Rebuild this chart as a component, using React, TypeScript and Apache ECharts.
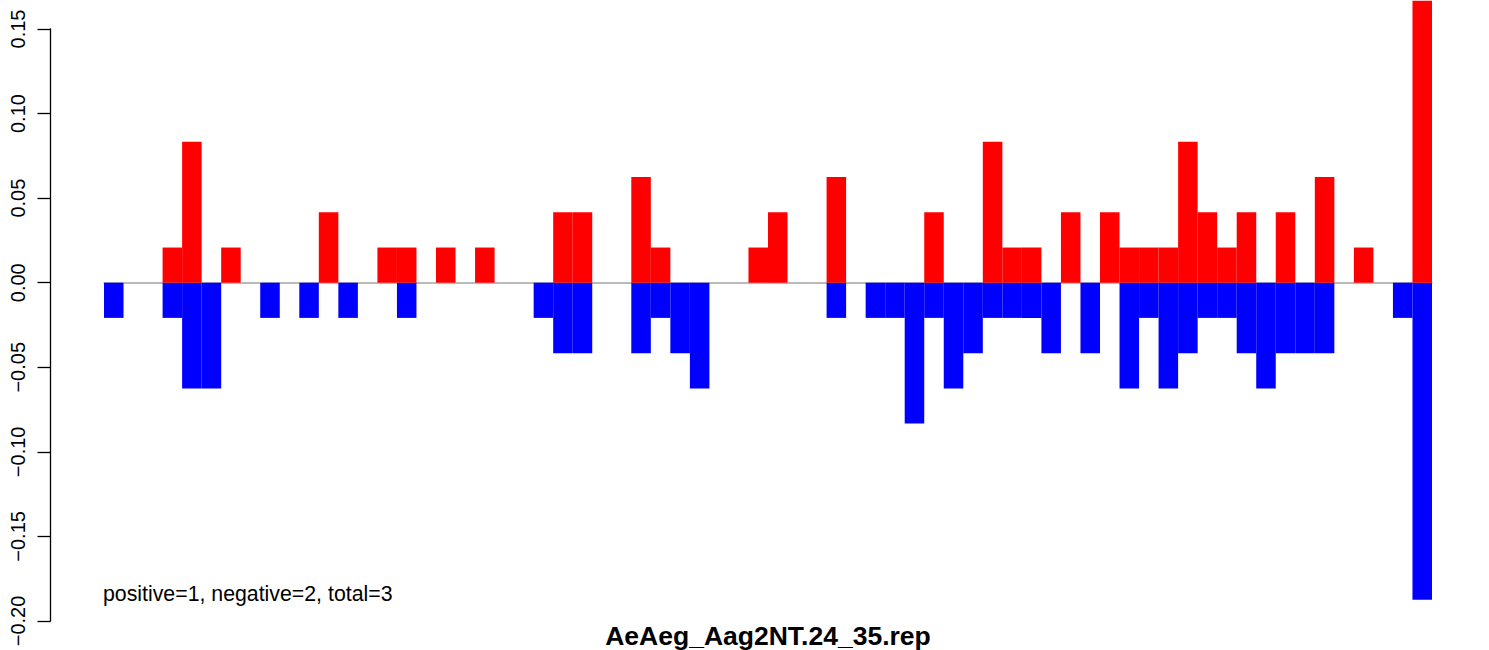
import React, { useEffect, useRef } from "react";
import * as echarts from "echarts";

const positions: string[] = Array.from({ length: 68 }, (_, i) => String(i + 1));

const positiveValues: number[] = [
  0, 0, 0, 0.0208, 0.0833, 0, 0.0208, 0, 0, 0,
  0, 0.0417, 0, 0, 0.0208, 0.0208, 0, 0.0208, 0, 0.0208,
  0, 0, 0, 0.0417, 0.0417, 0, 0, 0.0625, 0.0208, 0,
  0, 0, 0, 0.0208, 0.0417, 0, 0, 0.0625, 0, 0,
  0, 0, 0.0417, 0, 0, 0.0833, 0.0208, 0.0208, 0, 0.0417,
  0, 0.0417, 0.0208, 0.0208, 0.0208, 0.0833, 0.0417, 0.0208, 0.0417, 0,
  0.0417, 0, 0.0625, 0, 0.0208, 0, 0, 0.1667,
];

const negativeValues: number[] = [
  -0.0208, 0, 0, -0.0208, -0.0625, -0.0625, 0, 0, -0.0208, 0,
  -0.0208, 0, -0.0208, 0, 0, -0.0208, 0, 0, 0, 0,
  0, 0, -0.0208, -0.0417, -0.0417, 0, 0, -0.0417, -0.0208, -0.0417,
  -0.0625, 0, 0, 0, 0, 0, 0, -0.0208, 0, -0.0208,
  -0.0208, -0.0833, -0.0208, -0.0625, -0.0417, -0.0208, -0.0208, -0.0208, -0.0417, 0,
  -0.0417, 0, -0.0625, -0.0208, -0.0625, -0.0417, -0.0208, -0.0208, -0.0417, -0.0625,
  -0.0417, -0.0417, -0.0417, 0, 0, 0, -0.0208, -0.1875,
];

const yTicks = { min: -0.2, max: 0.15, interval: 0.05 };
const noteText = "positive=1, negative=2, total=3";
const titleText = "AeAeg_Aag2NT.24_35.rep";

const FONT = '"Liberation Sans", Arial, Helvetica, sans-serif';

const nz = (arr: number[]) => arr.map((v) => (v === 0 ? null : v));

export default function App() {
  const ref = useRef<HTMLDivElement>(null);

  useEffect(() => {
    if (!ref.current) return;
    const chart = echarts.init(ref.current, null, { renderer: "svg" });
    chart.setOption({
      animation: false,
      backgroundColor: "#ffffff",
      grid: { left: 104, right: 57, top: 29, bottom: 29, containLabel: false },
      xAxis: {
        type: "category",
        data: positions,
        boundaryGap: true,
        axisLine: { show: true, onZero: true, lineStyle: { color: "#a3a3a3", width: 1.5 } },
        axisTick: { show: false },
        axisLabel: { show: false },
        splitLine: { show: false },
      },
      yAxis: {
        type: "value",
        min: yTicks.min,
        max: yTicks.max,
        interval: yTicks.interval,
        offset: 53.5,
        axisLine: { show: true, lineStyle: { color: "#000000", width: 1.3 } },
        axisTick: { show: true, length: 13, lineStyle: { color: "#000000", width: 1.3 } },
        axisLabel: {
          show: true,
          rotate: 90,
          margin: 23,
          fontFamily: FONT,
          fontSize: 20,
          color: "#000000",
          formatter: (v: number) => {
            const s = Math.abs(v).toFixed(2);
            return v < -1e-9 ? "\u2212" + s : s;
          },
        },
        splitLine: { show: false },
      },
      series: [
        {
          type: "bar",
          data: nz(negativeValues),
          barWidth: "100%",
          barGap: "-100%",
          clip: false,
          itemStyle: { color: "#0000ff" },
        },
        {
          type: "bar",
          data: nz(positiveValues),
          barWidth: "100%",
          barGap: "-100%",
          clip: false,
          itemStyle: { color: "#ff0000" },
        },
      ],
      graphic: [
        {
          type: "text",
          left: 103,
          top: 583,
          style: {
            text: noteText,
            fontFamily: FONT,
            fontSize: 21.3,
            fill: "#000000",
          },
        },
        {
          type: "text",
          x: 768,
          y: 636,
          style: {
            text: titleText,
            fontFamily: FONT,
            fontSize: 26.5,
            fontWeight: "bold",
            fill: "#000000",
            align: "center",
            verticalAlign: "middle",
          },
        },
      ],
    });
    return () => chart.dispose();
  }, []);

  return (
    <div
      ref={ref}
      style={{ position: "fixed", left: 0, top: 0, width: 1489, height: 650 }}
    />
  );
}
